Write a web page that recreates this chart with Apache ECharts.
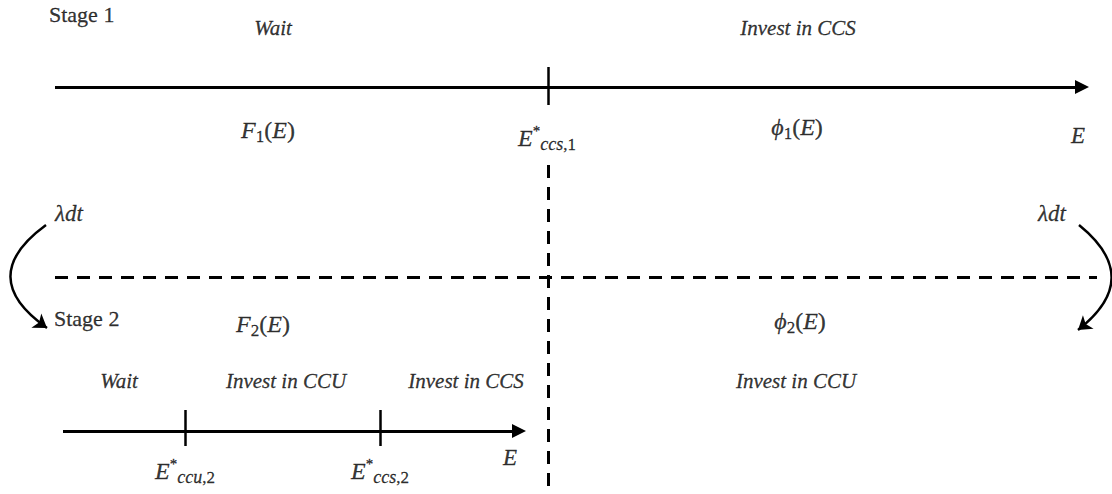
<!DOCTYPE html>
<html>
<head>
<meta charset="utf-8">
<script src="https://cdn.jsdelivr.net/npm/echarts@6/dist/echarts.min.js"></script>
<style>
  html, body { margin: 0; padding: 0; background: #fff; }
  #ech { width: 1112px; height: 494px; }
</style>
</head>
<body>
<div id="ech"></div>
<script>
// two-stage real option diagram: thresholds on the emissions axis E
var stageNames = ["Stage 1", "Stage 2"];
var stage1Regions = ["Wait", "Invest in CCS"];
var stage2Regions = ["Wait", "Invest in CCU", "Invest in CCS"];
var stage2RightRegion = "Invest in CCU";
var stage1Thresholds = [548];          // E*ccs,1
var stage2Thresholds = [185, 380];     // E*ccu,2 , E*ccs,2
var thresholdSubs1 = ["ccs", "1"];
var thresholdSubs2 = [["ccu", "2"], ["ccs", "2"]];
var valueFns = [["F", "1"], ["\u03d5", "1"], ["F", "2"], ["\u03d5", "2"]];
var jumpLabel = "\u03bbdt";

var FONT = "Liberation Serif";
var BLACK = "#000";
var ink = { color: BLACK, textBorderColor: BLACK, textBorderWidth: 0.3 };

var rich = {
  i: Object.assign({ fontFamily: FONT, fontStyle: "italic", fontSize: 24, lineHeight: 30 }, ink),
  r: Object.assign({ fontFamily: FONT, fontSize: 24, lineHeight: 30 }, ink),
  sup: Object.assign({ fontFamily: FONT, fontSize: 15, lineHeight: 30, verticalAlign: "top" }, ink),
  si: Object.assign({ fontFamily: FONT, fontStyle: "italic", fontSize: 18, lineHeight: 30, verticalAlign: "bottom" }, ink),
  sr: Object.assign({ fontFamily: FONT, fontSize: 17, lineHeight: 30, verticalAlign: "bottom" }, ink)
};

function fnLabel(f) {
  return "{i|" + f[0] + "}{sr|" + f[1] + "}{r|(}{i|E}{r|)}";
}
function thrLabel(s) {
  return "{i|E}{sup|*}{si|" + s[0] + "}{sr|," + s[1] + "}";
}

// text items placed on the same scale as the lines
var texts = [];
function addText(x, y, text, style, align) {
  texts.push({
    value: [x, y], name: text,
    label: Object.assign({ formatter: text, align: align || "center" }, ink, style)
  });
}
var plain = { fontFamily: FONT, fontSize: 22 };
var ital = { fontFamily: FONT, fontSize: 21, fontStyle: "italic" };
var mathE = { fontFamily: FONT, fontSize: 23, fontStyle: "italic" };

addText(49, 14, stageNames[0], plain, "left");
addText(54, 318, stageNames[1], plain, "left");
addText(273, 28, stage1Regions[0], ital);
addText(798, 28, stage1Regions[1], ital);
addText(119, 381, stage2Regions[0], ital);
addText(286, 381, stage2Regions[1], ital);
addText(466, 381, stage2Regions[2], ital);
addText(796, 381, stage2RightRegion, ital);
addText(268, 130, fnLabel(valueFns[0]), { rich: rich });
addText(797, 127, fnLabel(valueFns[1]), { rich: rich });
addText(263, 324, fnLabel(valueFns[2]), { rich: rich });
addText(800, 321, fnLabel(valueFns[3]), { rich: rich });
addText(1078, 135, "E", mathE);
addText(510, 457, "E", mathE);
addText(69, 213, jumpLabel, mathE);
addText(1052, 213, jumpLabel, mathE);

stage1Thresholds.forEach(function (x) {
  addText(x - 1, 138, thrLabel(thresholdSubs1), { rich: rich });
});
stage2Thresholds.forEach(function (x, k) {
  addText(x, 471, thrLabel(thresholdSubs2[k]), { rich: rich });
});

// line segments
var solid = { color: BLACK, width: 3, type: "solid", opacity: 1 };
var tick = { color: BLACK, width: 2.5, type: "solid", opacity: 1 };
var dash = { color: BLACK, width: 3, type: [13, 9], opacity: 1 };

var axisLines = [
  { coords: [[55, 87], [1082, 87]], lineStyle: solid },
  { coords: [[63, 431], [519, 431]], lineStyle: solid }
];
var plainLines = [
  { coords: [[548, 165], [548, 486]], lineStyle: dash },
  { coords: [[55, 277], [1097, 277]], lineStyle: dash }
];
stage1Thresholds.forEach(function (x) {
  plainLines.push({ coords: [[x, 67], [x, 105]], lineStyle: tick });
});
stage2Thresholds.forEach(function (x) {
  plainLines.push({ coords: [[x, 410], [x, 446]], lineStyle: tick });
});
var jumpArrows = [
  { coords: [[46, 225], [47, 328]], lineStyle: { color: BLACK, width: 2.5, opacity: 1, curveness: -0.7 } },
  { coords: [[1079, 225], [1078, 330]], lineStyle: { color: BLACK, width: 2.5, opacity: 1, curveness: 0.63 } }
];

var myChart = echarts.init(document.getElementById("ech"), null, { renderer: "svg" });
var option = {
  backgroundColor: "#fff",
  animation: false,
  grid: { left: 0, right: 0, top: 0, bottom: 0 },
  xAxis: { type: "value", min: 0, max: 1112, show: false },
  yAxis: { type: "value", min: 0, max: 494, inverse: true, show: false },
  series: [
    {
      type: "lines", coordinateSystem: "cartesian2d",
      symbol: ["none", "none"], data: plainLines, silent: true,
      lineStyle: { opacity: 1, color: BLACK }
    },
    {
      type: "lines", coordinateSystem: "cartesian2d",
      symbol: ["none", "triangle"], symbolSize: [11, 14],
      data: axisLines, silent: true,
      lineStyle: { opacity: 1, color: BLACK }, itemStyle: { color: BLACK }
    },
    {
      type: "lines", coordinateSystem: "cartesian2d",
      symbol: ["none", "arrow"], symbolSize: [10, 13],
      data: jumpArrows, silent: true,
      lineStyle: { opacity: 1, color: BLACK }, itemStyle: { color: BLACK }
    },
    {
      type: "scatter", symbolSize: 1, itemStyle: { color: "transparent" }, silent: true,
      label: { show: true, position: "inside", verticalAlign: "middle", color: BLACK },
      data: texts
    }
  ]
};
myChart.setOption(option);
</script>
</body>
</html>
